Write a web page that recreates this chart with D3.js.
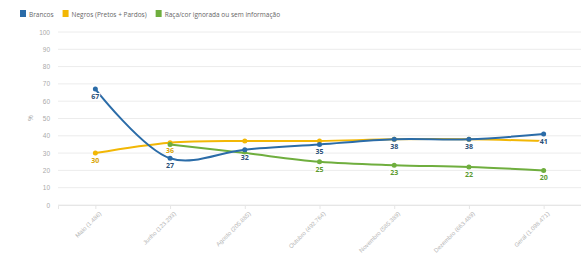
<!DOCTYPE html>
<html><head><meta charset="utf-8">
<script src="https://cdn.jsdelivr.net/npm/d3@7"></script>
<style>body{margin:0;background:#fff;}svg{display:block;font-family:"Open Sans",sans-serif;}</style>
</head><body><svg id="c" width="581" height="253"></svg>
<script>
const categories = ["Maio (1.486)","Junho (123.293)","Agosto (205.885)","Outubro (492.764)","Novembro (585.389)","Dezembro (663.489)","Geral (1.098.471)"];
const seriesNames = ["Brancos","Negros (Pretos + Pardos)","Raça/cor ignorada ou sem informação"];
const brancos = [67,27,32,35,38,38,41];
const negros = [30,36,37,37,38,38,37];
const ignorada = [null,35,30,25,23,22,20];
const yTicks = [0,10,20,30,40,50,60,70,80,90,100];
const colors = ["#2b6ca8","#f2b705","#6fae3e"];
const labelColors = ["#2a4f78","#d9a404","#5c9a30"];
const showLabels = [[1,1,1,1,1,1,1],[1,1,0,0,0,0,0],[0,0,0,1,1,1,1]];

const svg = d3.select("#c");
const x = d3.scalePoint().domain(categories).range([58,581]).padding(0.5);
const y = d3.scaleLinear().domain([0,100]).range([205,32]);

svg.append("g").selectAll("line").data(yTicks).join("line")
  .attr("x1",58).attr("x2",581).attr("y1",d=>y(d)).attr("y2",d=>y(d))
  .attr("stroke","#ececec").attr("stroke-width",1);

const ya = svg.append("g").attr("transform","translate(50,0)")
  .call(d3.axisLeft(y).tickValues(yTicks).tickSize(0).tickPadding(0));
ya.select(".domain").remove();
ya.selectAll("text").attr("fill","#aaa").style("font-size","6.5px");

svg.append("text").attr("transform","translate(33,118) rotate(-90)")
  .attr("text-anchor","middle").attr("fill","#aaa").style("font-size","7px").text("%");

const xa = svg.append("g").attr("transform","translate(0,205)")
  .call(d3.axisBottom(x).tickSize(4));
xa.select(".domain").attr("stroke","#e6e6e6");
xa.selectAll(".tick line").attr("stroke","#e6e6e6");
xa.selectAll("text").attr("fill","#b5b5b5").style("font-size","6px")
  .attr("text-anchor","end").attr("transform","rotate(-45)").attr("dx","-0.4em").attr("dy","0.6em");

const data = [brancos,negros,ignorada];
const line = d3.line().defined(d=>d.v!=null).x(d=>x(d.c)).y(d=>y(d.v)).curve(d3.curveCatmullRom.alpha(0.5));
[1,2,0].forEach(i=>{
  const pts = data[i].map((v,j)=>({c:categories[j],v:v}));
  svg.append("path").datum(pts).attr("d",line).attr("fill","none")
    .attr("stroke",colors[i]).attr("stroke-width",2);
  svg.append("g").selectAll("circle").data(pts.filter(d=>d.v!=null)).join("circle")
    .attr("cx",d=>x(d.c)).attr("cy",d=>y(d.v)).attr("r",2.5).attr("fill",colors[i]);
});
[0,1,2].forEach(i=>{
  const pts = data[i].map((v,j)=>({c:categories[j],v:v,j:j})).filter(d=>d.v!=null && showLabels[i][d.j]);
  svg.append("g").selectAll("text").data(pts).join("text")
    .attr("x",d=>x(d.c)).attr("y",d=>y(d.v)+10).attr("text-anchor","middle")
    .attr("fill",labelColors[i]).style("font-size","7px").style("font-weight","bold")
    .attr("stroke","#fff").attr("stroke-width",2).attr("paint-order","stroke")
    .text(d=>d.v);
});

const lg = svg.append("g").attr("transform","translate(20,14)");
let lx = 0;
seriesNames.forEach((n,i)=>{
  const g = lg.append("g").attr("transform",`translate(${lx},0)`);
  g.append("rect").attr("x",0).attr("y",-4).attr("width",6).attr("height",7).attr("fill",colors[i]);
  const t = g.append("text").attr("x",9).attr("y",2.5).attr("fill","#666").style("font-size","6.5px").text(n);
  lx += 9 + t.node().getComputedTextLength() + 9;
});
</script></body></html>
